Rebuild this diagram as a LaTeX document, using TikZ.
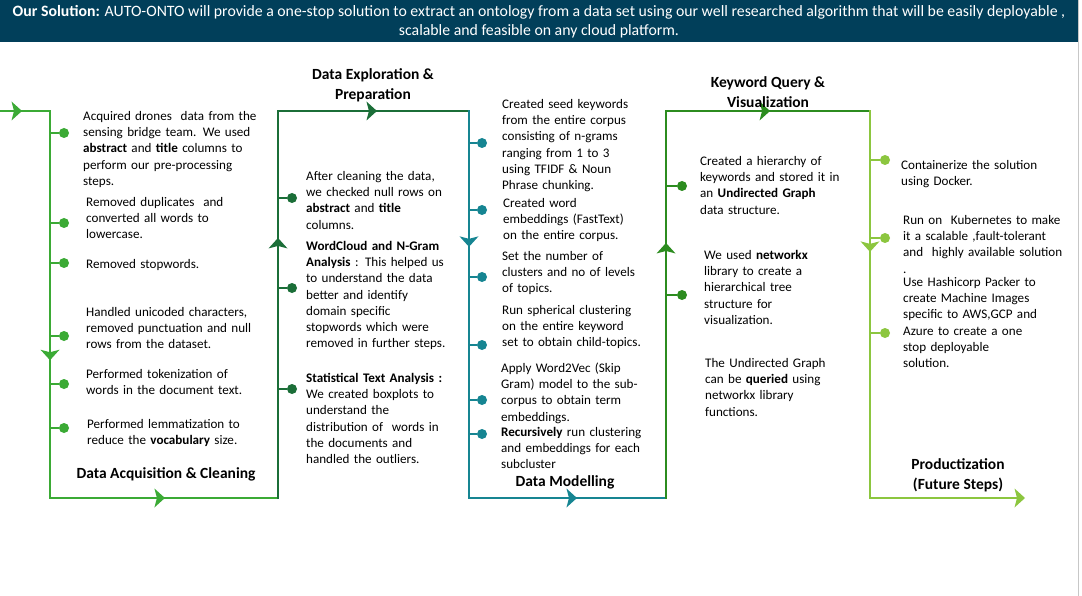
\documentclass[tikz,border=0pt]{standalone}
\usepackage{fontspec}
\setmainfont{Carlito}
\usetikzlibrary{arrows.meta}
\definecolor{hdrblue}{HTML}{013F5A}
\definecolor{gA}{HTML}{3BAA35}
\definecolor{gB}{HTML}{1B6E38}
\definecolor{tC}{HTML}{168592}
\definecolor{gD}{HTML}{2C8C1F}
\definecolor{gE}{HTML}{8CC63F}
\newcommand\bodyfnt{\fontsize{13.1}{16.2}\selectfont}
\newcommand\hdrfnt{\fontsize{15.8}{19}\selectfont}
\newcommand\ttlfnt{\fontsize{15.5}{20}\selectfont\bfseries}
\begin{document}
\begin{tikzpicture}[x=1pt,y=-1pt,
  seg/.style={line width=2.9pt,line cap=rect},
  tipmark/.pic={\fill (0,0) -- (-10.5,-9.5) -- (-8,0) -- (-10.5,9.5) -- cycle;},
  bulletdot/.style={circle,inner sep=0pt,minimum size=10pt},
  txt/.style={anchor=base west,align=left,text width=200pt,inner sep=0pt,font=\bodyfnt,yshift=-1.5pt},
  ttl/.style={align=center,inner sep=0pt,font=\ttlfnt}]
\useasboundingbox (0,0) rectangle (1082,596);
\fill[white] (0,0) rectangle (1082,596);
% header
\node[fill=hdrblue,minimum width=1078pt,minimum height=42pt,anchor=north west,inner sep=0pt] (hdr) at (0,0) {};
\node[text=white,align=center,inner sep=0pt,font=\hdrfnt] (hdrtext) at (539,21.5)
 {\textbf{Our Solution:} AUTO-ONTO will provide a one-stop solution to extract an ontology from a data set using our well researched algorithm that will be easily deployable ,\\scalable and feasible on any cloud platform.};
\draw[black!22,line width=0.8pt] (1078.5,0) -- (1078.5,596);

% corner coordinates
\coordinate (s0) at (0,111);
\coordinate (c1t) at (50,111);
\coordinate (c1b) at (50,498);
\coordinate (c2b) at (278,498);
\coordinate (c2t) at (278,111);
\coordinate (c3t) at (469,111);
\coordinate (c3b) at (469,498);
\coordinate (c4b) at (666,498);
\coordinate (c4t) at (666,111);
\coordinate (c5t) at (870,111);
\coordinate (c5b) at (870,498);
\coordinate (fin) at (1025,498);

% flow lines
\draw[gA,seg] (s0) -- (c1t) pic[gA,pos=0.44,sloped,allow upside down]{tipmark};
\draw[gA,seg] (c1t) -- (c1b) pic[gA,pos=0.644,sloped,allow upside down]{tipmark};
\draw[gA,seg] (c1b) -- (c2b) pic[gA,pos=0.504,sloped,allow upside down]{tipmark};
\draw[gB,seg] (c2b) -- (c2t) pic[gB,pos=0.672,sloped,allow upside down]{tipmark};
\draw[gB,seg] (c2t) -- (c3t) pic[gB,pos=0.518,sloped,allow upside down]{tipmark};
\draw[tC,seg] (c3t) -- (c3b) pic[tC,pos=0.351,sloped,allow upside down]{tipmark};
\draw[tC,seg] (c3b) -- (c4b) pic[tC,pos=0.548,sloped,allow upside down]{tipmark};
\draw[gD,seg] (c4b) -- (c4t) pic[gD,pos=0.659,sloped,allow upside down]{tipmark};
\draw[gD,seg] (c4t) -- (c5t) pic[gD,pos=0.51,sloped,allow upside down]{tipmark};
\draw[gE,seg] (c5t) -- (c5b) pic[gE,pos=0.364,sloped,allow upside down]{tipmark};
\draw[gE,seg] (c5b) -- ([xshift=-8pt]fin) pic[gE,pos=1,sloped,allow upside down,xshift=8pt]{tipmark};

% bullets
\foreach \yy [count=\i] in {133,223,263,336,384,428} {
  \coordinate (pa\i) at (50,\yy);
  \node[bulletdot,fill=gA] (da\i) at (64,\yy) {};
  \draw[gA,line width=2.9pt] (pa\i) -- (da\i);
}
\foreach \yy [count=\i] in {198,288,389} {
  \coordinate (pb\i) at (278,\yy);
  \node[bulletdot,fill=gB] (db\i) at (292,\yy) {};
  \draw[gB,line width=2.9pt] (pb\i) -- (db\i);
}
\foreach \yy [count=\i] in {143,210,277,345,400,434} {
  \coordinate (pc\i) at (469,\yy);
  \node[bulletdot,fill=tC] (dc\i) at (482,\yy) {};
  \draw[tC,line width=2.9pt] (pc\i) -- (dc\i);
}
\foreach \yy [count=\i] in {186,295} {
  \coordinate (pd\i) at (666,\yy);
  \node[bulletdot,fill=gD] (dd\i) at (682,\yy) {};
  \draw[gD,line width=2.9pt] (pd\i) -- (dd\i);
}
\foreach \yy [count=\i] in {160,238,333} {
  \coordinate (pe\i) at (870,\yy);
  \node[bulletdot,fill=gE] (de\i) at (885,\yy) {};
  \draw[gE,line width=2.9pt] (pe\i) -- (de\i);
}

% column 1
\node[txt] (t11) at (83,119) {Acquired drones~ data from the\\sensing bridge team. We used\\\textbf{abstract} and \textbf{title} columns to\\perform our pre-processing\\steps.};
\node[txt] (t12) at (86,205) {Removed duplicates~ and\\converted all words to\\lowercase.};
\node[txt] (t13) at (86,267) {Removed stopwords.};
\node[txt] (t14) at (86,315) {Handled unicoded characters,\\removed punctuation and null\\rows from the dataset.};
\node[txt] (t15) at (86,377) {Performed tokenization of\\words in the document text.};
\node[txt] (t16) at (87,427) {Performed lemmatization to\\reduce the \textbf{vocabulary} size.};
\node[ttl] (ttl1) at (166,474) {Data Acquisition \& Cleaning};

% column 2
\node[ttl] (ttl2) at (373,85) {Data Exploration \&\\Preparation};
\node[txt] (t21) at (306,179) {After cleaning the data,\\we checked null rows on\\\textbf{abstract} and \textbf{title}\\columns.};
\node[txt] (t22) at (306,249) {\textbf{WordCloud and N-Gram}\\\textbf{Analysis} : This helped us\\to understand the data\\better and identify\\domain specific\\stopwords which were\\removed in further steps.};
\node[txt] (t23) at (306,381) {\textbf{Statistical Text Analysis :}\\We created boxplots to\\understand the\\distribution of~ words in\\the documents and\\handled the outliers.};

% column 3
\node[txt] (t31) at (502,107) {Created seed keywords\\from the entire corpus\\consisting of n-grams\\ranging from 1 to 3\\using TFIDF \& Noun\\Phrase chunking.};
\node[txt] (t32) at (503,206) {Created word\\embeddings (FastText)\\on the entire corpus.};
\node[txt] (t33) at (502,259) {Set the number of\\clusters and no of levels\\of topics.};
\node[txt] (t34) at (502,313) {Run spherical clustering\\on the entire keyword\\set to obtain child-topics.};
\node[txt] (t35) at (501,371) {Apply Word2Vec (Skip\\Gram) model to the sub-\\corpus to obtain term\\embeddings.};
\node[txt] (t36) at (501,435) {\textbf{Recursively} run clustering\\and embeddings for each\\subcluster};
\node[ttl] (ttl3) at (565,482.5) {Data Modelling};

% column 4
\node[ttl] (ttl4) at (768,92) {Keyword Query \&\\Visualization};
\node[txt] (t41) at (700,164) {Created a hierarchy of\\keywords and stored it in\\an \textbf{Undirected Graph}\\data structure.};
\node[txt] (t42) at (704,258) {We used \textbf{networkx}\\library to create a\\hierarchical tree\\structure for\\visualization.};
\node[txt] (t43) at (705,366) {The Undirected Graph\\can be \textbf{queried} using\\networkx library\\functions.};

% column 5
\node[txt] (t51) at (901,168) {Containerize the solution\\using Docker.};
\node[txt] (t52) at (903,223) {Run on~ Kubernetes to make\\it a scalable ,fault-tolerant\\and~ highly available solution\\.};
\node[txt] (t53) at (903,285) {Use Hashicorp Packer to\\create Machine Images\\specific to AWS,GCP and\\Azure to create a one\\stop deployable\\solution.};
\node[ttl] (ttl5) at (958,475.5) {Productization\\(Future Steps)};
\end{tikzpicture}
\end{document}
